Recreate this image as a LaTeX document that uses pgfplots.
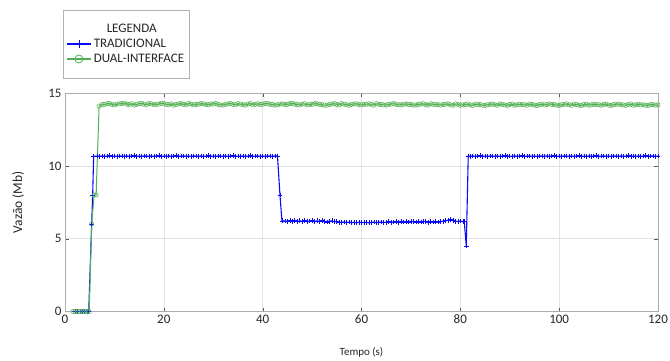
\documentclass[border=0pt]{standalone}
\usepackage{fontspec}
\setmainfont{Carlito}
\usepackage{pgfplots}
\usepackage{pgfplotstable}
\pgfplotsset{compat=1.18}
\definecolor{tblue}{RGB}{10,10,250}
\definecolor{dgreen}{RGB}{80,175,80}

\pgfplotstableread{
t v
2 0
2.5 0
3 0
3.5 0
4 0
4.5 0
4.8 0
5.4 6.0
5.6 8.0
5.8 10.67
6.5 10.67
7 10.65
7.5 10.68
8 10.66
8.5 10.67
9 10.69
9.5 10.66
10 10.67
10.5 10.65
11 10.68
11.5 10.67
12 10.65
12.5 10.68
13 10.66
13.5 10.67
14 10.69
14.5 10.66
15 10.67
15.5 10.65
16 10.68
16.5 10.67
17 10.66
17.5 10.68
18 10.65
18.5 10.67
19 10.69
19.5 10.66
20 10.67
20.5 10.65
21 10.68
21.5 10.66
22 10.67
22.5 10.69
23 10.65
23.5 10.67
24 10.68
24.5 10.66
25 10.67
25.5 10.65
26 10.68
26.5 10.67
27 10.65
27.5 10.68
28 10.66
28.5 10.67
29 10.69
29.5 10.66
30 10.67
30.5 10.65
31 10.68
31.5 10.67
32 10.66
32.5 10.68
33 10.65
33.5 10.67
34 10.69
34.5 10.66
35 10.67
35.5 10.65
36 10.68
36.5 10.66
37 10.67
37.5 10.69
38 10.65
38.5 10.67
39 10.68
39.5 10.66
40 10.67
40.5 10.65
41 10.68
41.5 10.67
42 10.66
42.5 10.68
43 10.67
43.5 8.0
43.9 6.22
44.5 6.21
45 6.19
45.5 6.23
46 6.20
46.5 6.25
47 6.18
47.5 6.22
48 6.20
48.5 6.24
49 6.16
49.5 6.21
50 6.25
50.5 6.18
51 6.22
51.5 6.19
52 6.23
52.5 6.17
53 6.15
53.5 6.20
54 6.22
54.5 6.16
55 6.18
55.5 6.13
56 6.12
56.5 6.15
57 6.11
57.5 6.14
58 6.10
58.5 6.12
59 6.09
59.5 6.13
60 6.11
60.5 6.10
61 6.13
61.5 6.09
62 6.11
62.5 6.14
63 6.10
63.5 6.13
64 6.15
64.5 6.11
65 6.13
65.5 6.16
66 6.12
66.5 6.15
67 6.17
67.5 6.13
68 6.16
68.5 6.14
69 6.18
69.5 6.15
70 6.19
70.5 6.16
71 6.14
71.5 6.18
72 6.15
72.5 6.19
73 6.16
73.5 6.13
74 6.17
74.5 6.15
75 6.18
75.5 6.14
76 6.17
76.5 6.20
77 6.23
77.5 6.27
78 6.30
78.5 6.24
79 6.20
79.5 6.18
80 6.21
80.5 6.17
80.8 6.16
81.2 4.5
81.6 10.67
82 10.66
82.5 10.68
83 10.65
83.5 10.67
84 10.69
84.5 10.66
85 10.67
85.5 10.65
86 10.68
86.5 10.67
87 10.66
87.5 10.68
88 10.65
88.5 10.67
89 10.69
89.5 10.66
90 10.67
90.5 10.65
91 10.68
91.5 10.66
92 10.67
92.5 10.69
93 10.65
93.5 10.67
94 10.68
94.5 10.66
95 10.67
95.5 10.65
96 10.68
96.5 10.67
97 10.65
97.5 10.68
98 10.66
98.5 10.67
99 10.69
99.5 10.66
100 10.67
100.5 10.65
101 10.68
101.5 10.67
102 10.66
102.5 10.68
103 10.65
103.5 10.67
104 10.69
104.5 10.66
105 10.67
105.5 10.65
106 10.68
106.5 10.66
107 10.67
107.5 10.69
108 10.65
108.5 10.67
109 10.68
109.5 10.66
110 10.67
110.5 10.65
111 10.68
111.5 10.67
112 10.66
112.5 10.68
113 10.65
113.5 10.67
114 10.69
114.5 10.66
115 10.67
115.5 10.65
116 10.68
116.5 10.66
117 10.67
117.5 10.69
118 10.65
118.5 10.67
119 10.68
119.5 10.66
120 10.67
}\tradicional

\pgfplotstableread{
t v
1.6 0
2 0
2.5 0
3 0
3.5 0
4 0
4.5 0
4.9 0
5.4 6.0
5.9 8.0
6.3 8.0
6.9 14.1
7.5 14.2
8 14.22
8.5 14.26
9 14.28
9.5 14.21
10 14.18
10.5 14.24
11 14.25
11.5 14.29
12 14.30
12.5 14.23
13 14.21
13.5 14.26
14 14.17
14.5 14.22
15 14.26
15.5 14.29
16 14.23
16.5 14.19
17 14.29
17.5 14.25
18 14.19
18.5 14.22
19 14.24
19.5 14.30
20 14.27
20.5 14.22
21 14.20
21.5 14.25
22 14.16
22.5 14.21
23 14.25
23.5 14.28
24 14.22
24.5 14.19
25 14.28
25.5 14.24
26 14.18
26.5 14.21
27 14.23
27.5 14.27
28 14.26
28.5 14.20
29 14.19
29.5 14.25
30 14.24
30.5 14.29
31 14.21
31.5 14.18
32 14.17
32.5 14.23
33 14.25
33.5 14.28
34 14.22
34.5 14.19
35 14.27
35.5 14.24
36 14.20
36.5 14.17
37 14.24
37.5 14.28
38 14.18
38.5 14.22
39 14.26
39.5 14.21
40 14.23
40.5 14.27
41 14.28
41.5 14.22
42 14.21
42.5 14.17
43 14.19
43.5 14.24
44 14.25
44.5 14.21
45 14.22
45.5 14.27
46 14.29
46.5 14.23
47 14.20
47.5 14.18
48 14.24
48.5 14.26
49 14.18
49.5 14.21
50 14.23
50.5 14.27
51 14.26
51.5 14.22
52 14.20
52.5 14.16
53 14.17
53.5 14.22
54 14.24
54.5 14.27
55 14.21
55.5 14.18
56 14.27
56.5 14.23
57 14.19
57.5 14.16
58 14.22
58.5 14.25
59 14.25
59.5 14.20
60 14.18
60.5 14.22
61 14.23
61.5 14.26
62 14.20
62.5 14.17
63 14.26
63.5 14.23
64 14.21
64.5 14.18
65 14.17
65.5 14.21
66 14.24
66.5 14.27
67 14.22
67.5 14.19
68 14.19
68.5 14.23
69 14.25
69.5 14.22
70 14.21
70.5 14.17
71 14.18
71.5 14.22
72 14.24
72.5 14.26
73 14.20
73.5 14.17
74 14.26
74.5 14.22
75 14.22
75.5 14.19
76 14.17
76.5 14.21
77 14.23
77.5 14.26
78 14.19
78.5 14.16
79 14.25
79.5 14.22
80 14.16
80.5 14.19
81 14.21
81.5 14.24
82 14.18
82.5 14.15
83 14.24
83.5 14.21
84 14.20
84.5 14.17
85 14.15
85.5 14.19
86 14.22
86.5 14.25
87 14.19
87.5 14.16
88 14.25
88.5 14.22
89 14.18
89.5 14.15
90 14.21
90.5 14.24
91 14.16
91.5 14.19
92 14.23
92.5 14.20
93 14.19
93.5 14.16
94 14.24
94.5 14.21
95 14.17
95.5 14.14
96 14.21
96.5 14.24
97 14.18
97.5 14.21
98 14.25
98.5 14.22
99 14.20
99.5 14.17
100 14.15
100.5 14.19
101 14.22
101.5 14.25
102 14.19
102.5 14.16
103 14.24
103.5 14.21
104 14.17
104.5 14.14
105 14.21
105.5 14.23
106 14.16
106.5 14.19
107 14.23
107.5 14.20
108 14.19
108.5 14.16
109 14.22
109.5 14.24
110 14.17
110.5 14.15
111 14.20
111.5 14.23
112 14.24
112.5 14.20
113 14.18
113.5 14.15
114 14.21
114.5 14.24
115 14.16
115.5 14.19
116 14.22
116.5 14.18
117 14.19
117.5 14.16
118 14.15
118.5 14.20
119 14.20
119.5 14.17
120 14.18
}\dualinterface

\begin{document}
\begin{tikzpicture}[x=1pt,y=1pt]
\useasboundingbox (0,0) rectangle (670,360);
\begin{axis}[
  at={(65pt,48.5pt)}, anchor=south west,
  scale only axis, width=593pt, height=218.5pt,
  xmin=0, xmax=120, ymin=0, ymax=15,
  xtick={0,20,...,120}, ytick={0,5,10,15},
  grid=major, grid style={gray!22},
  tick align=inside, major tick length=4pt,
  tick style={gray!70!black},
  axis line style={gray!65},
  tick label style={font=\fontsize{13}{15}\selectfont, text=black!85},
  /pgf/number format/assume math mode=true,
  xlabel={Tempo (s)}, ylabel={Vazão (Mb)},
  xlabel style={font=\fontsize{11}{13}\selectfont, text=black!85, at={(axis description cs:0.5,-0.185)}, anchor=center},
  ylabel style={font=\fontsize{13.5}{15}\selectfont, text=black!85, at={(axis description cs:-0.079,0.5)}, anchor=center},
  legend style={at={(axis description cs:-0.0034,1.38)}, anchor=north west,
    draw=gray!60, font=\fontsize{13}{15}\selectfont, text=black!85,
    inner xsep=3pt, inner ysep=12pt, row sep=1pt},
  legend cell align=left,
  legend image code/.code={
    \draw[#1, line width=1.6pt, mark=none] (0pt,0pt) -- (24pt,0pt);
    \draw[#1, only marks, mark size=4pt, mark options={line width=0.8pt}] plot coordinates {(12pt,0pt)};},
]
\addlegendimage{empty legend}
\addlegendentry{\hspace*{13pt}LEGENDA\rule[-12pt]{0pt}{12pt}}
\addplot[tblue, line width=1.1pt, mark=+, mark size=2.4pt, mark options={line width=0.6pt}] table[x=t,y=v] {\tradicional};
\addlegendentry{TRADICIONAL}
\addplot[dgreen, line width=1.0pt, mark=o, mark size=2.2pt, mark options={line width=0.5pt, fill=none}] table[x=t,y=v] {\dualinterface};
\addlegendentry{DUAL-INTERFACE}
\end{axis}
\end{tikzpicture}
\end{document}
